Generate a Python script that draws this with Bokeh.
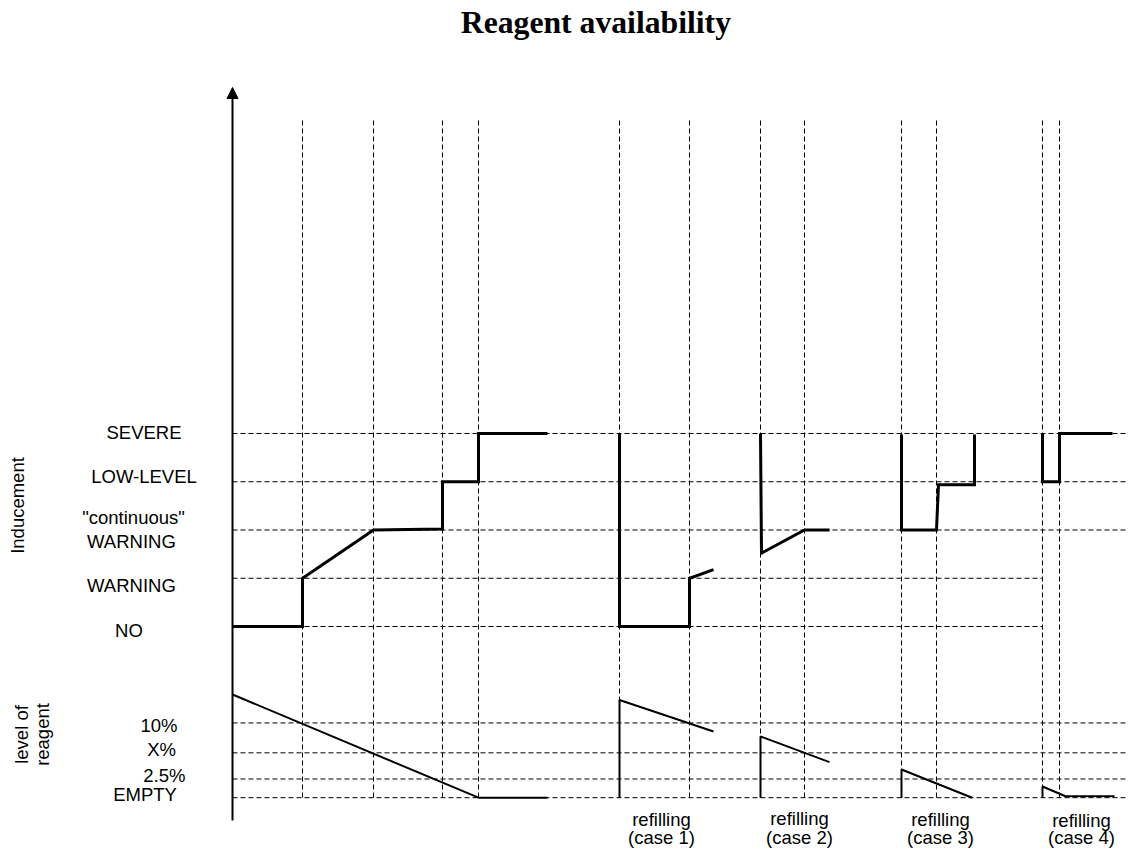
import math
from bokeh.plotting import figure
from bokeh.models import Range1d, Arrow, NormalHead
from bokeh.core.properties import value
from bokeh.embed import file_html
from bokeh.resources import INLINE

# ---------------- data ----------------
title_text = "Reagent availability"

inducement_names = ["NO", "WARNING", "\"continuous\"|WARNING", "LOW-LEVEL", "SEVERE"]
inducement_levels = [0, 1, 2, 3, 4]

reagent_names = ["10%", "X%", "2.5%", "EMPTY"]
reagent_levels = [10.0, 6.0, 2.5, 0.0]          # % of reagent

# times (arbitrary units) of the vertical event markers
event_times = [7.0, 14.1, 21.0, 24.6, 38.7, 45.7, 52.8, 57.2, 66.9, 70.4, 81.0, 82.7]

case_names = ["refilling|(case 1)", "refilling|(case 2)", "refilling|(case 3)", "refilling|(case 4)"]

# normal depletion
base_t = [0.0, 7.0, 7.0, 14.1, 21.0, 21.0, 24.6, 24.6, 31.5]
base_ind = [0, 0, 1, 2, 2.02, 3, 3, 4, 4]
base_lvl_t = [0.0, 24.6, 31.5]
base_lvl = [13.8, 0.0, 0.0]

# refilling case 1
case1_t = [38.7, 38.7, 45.7, 45.7, 48.1]
case1_ind = [4, 0, 0, 1, 1.18]
case1_lvl_t = [38.7, 38.7, 48.1]
case1_lvl = [0.0, 13.07, 8.85]

# refilling case 2
case2_t = [52.8, 52.9, 57.2, 59.7]
case2_ind = [4, 1.52, 2, 2]
case2_lvl_t = [52.8, 52.8, 59.7]
case2_lvl = [0.0, 8.19, 4.75]

# refilling case 3
case3_t = [66.9, 66.9, 70.4, 70.6, 74.2, 74.2]
case3_ind = [3.98, 2, 2, 2.94, 2.94, 3.98]
case3_lvl_t = [66.9, 66.9, 73.97]
case3_lvl = [0.0, 3.77, 0.0]

# refilling case 4
case4_t = [81.0, 81.0, 82.7, 82.7, 88.0]
case4_ind = [4, 3, 3, 4, 4]
case4_lvl_t = [81.0, 81.0, 83.3, 88.2]
case4_lvl = [0.0, 1.5, 0.2, 0.2]

# ---------------- layout (picture pixels) ----------------
FIG_W, FIG_H = 1128, 848
AXIS_X = 232.0
PX_PER_T = 10.0
IND0_Y = 626.0
PX_PER_LEVEL = 48.25
RG0_Y = 797.2
PX_PER_PCT = 7.477
SANS_DY = 7.0      # rendered baseline sits this much below the anchor
SERIF_DY = 9.5


def tx(px):
    return (px - AXIS_X) / PX_PER_T


def ly(py):
    return (IND0_Y - py) / PX_PER_LEVEL


def ry(py):
    return (RG0_Y - py) / PX_PER_PCT


def page_y_of_level(lv):
    return IND0_Y - lv * PX_PER_LEVEL


def page_y_of_pct(pc):
    return RG0_Y - pc * PX_PER_PCT


p = figure(width=FIG_W, height=FIG_H,
           x_range=Range1d(tx(0), tx(FIG_W)),
           y_range=Range1d(ly(FIG_H), ly(0)),
           x_axis_type=None, y_axis_type=None,
           output_backend="svg", toolbar_location=None, min_border=0)
p.extra_y_ranges = {"reagent": Range1d(ry(FIG_H), ry(0))}
p.grid.visible = False
p.outline_line_color = None
p.background_fill_color = "white"
p.border_fill_color = "white"

DASH = "5 3"
right_edge = tx(1144)

# horizontal dashed reference lines
h_xs, h_ys = [], []
for name, lv in zip(inducement_names, inducement_levels):
    end = event_times[10] if lv <= 1 else right_edge
    h_xs.append([0.0, end])
    h_ys.append([lv, lv])
p.multi_line(h_xs, h_ys, line_color="black", line_width=1, line_dash=DASH)

r_xs = [[0.0, right_edge] for _ in reagent_levels]
r_ys = [[v, v] for v in reagent_levels]
p.multi_line(r_xs, r_ys, line_color="black", line_width=1, line_dash=DASH,
             y_range_name="reagent")

# vertical dashed event lines
v_top = ly(120)
v_bot = ly(page_y_of_pct(0.0))
p.multi_line([[t, t] for t in event_times], [[v_top, v_bot] for _ in event_times],
             line_color="black", line_width=1, line_dash=DASH)

# inducement curves
for xs, ys in [(base_t, base_ind), (case1_t, case1_ind), (case2_t, case2_ind),
               (case3_t, case3_ind), (case4_t, case4_ind)]:
    p.line(xs, ys, line_color="black", line_width=3, line_join="miter")

# reagent level curves
for xs, ys in [(base_lvl_t, base_lvl), (case1_lvl_t, case1_lvl), (case2_lvl_t, case2_lvl),
               (case3_lvl_t, case3_lvl), (case4_lvl_t, case4_lvl)]:
    p.line(xs, ys, line_color="black", line_width=2, y_range_name="reagent")

# vertical axis with arrow
p.add_layout(Arrow(end=NormalHead(size=11, fill_color="black", line_color="black", line_width=1),
                   x_start=0.0, y_start=ly(820), x_end=0.0, y_end=ly(87),
                   line_color="black", line_width=2))

FONT = value("Liberation Sans")
FS = "18.5px"

# level labels: (left x, baseline offset px) per line of label
ind_label_pos = {
    "NO": [(114.6, 10.7)],
    "WARNING": [(86.6, 14.0)],
    "\"continuous\"|WARNING": [(81.7, -5.5), (86.6, 18.5)],
    "LOW-LEVEL": [(90.7, 2.0)],
    "SEVERE": [(106.0, 6.0)],
}
rg_label_pos = {"10%": (140.0, 9.3), "X%": (146.7, 3.7), "2.5%": (142.7, 3.2), "EMPTY": (112.7, 3.5)}

lx, lyy, lt = [], [], []
for name, lv in zip(inducement_names, inducement_levels):
    parts = name.split("|")
    for part, (x0, off) in zip(parts, ind_label_pos[name]):
        lx.append(tx(x0))
        lyy.append(ly(page_y_of_level(lv) + off - SANS_DY))
        lt.append(part)
for name, pc in zip(reagent_names, reagent_levels):
    x0, off = rg_label_pos[name]
    lx.append(tx(x0))
    lyy.append(ly(page_y_of_pct(pc) + off - SANS_DY))
    lt.append(name)
p.text(x=lx, y=lyy, text=lt, text_font=FONT, text_font_size=FS,
       text_align="left", text_baseline="alphabetic", text_color="black")

# rotated axis titles
p.text(x=[tx(24.0 - SANS_DY), tx(28.3 - SANS_DY), tx(48.8 - SANS_DY)],
       y=[ly(505), ly(734), ly(734)],
       text=["Inducement", "level of", "reagent"], angle=math.pi / 2,
       text_font=FONT, text_font_size=FS, text_align="center",
       text_baseline="alphabetic", text_color="black")

# refilling case labels (kept inside the 848px-high figure)
case_cx = [661.0, 799.0, 940.0, 1081.0]
case_b1 = [826.0, 825.0, 826.0, 827.0]
case_b2 = [844.0, 843.5, 844.0, 844.0]
cx, cy, ct = [], [], []
for name, x0, b1, b2 in zip(case_names, case_cx, case_b1, case_b2):
    a, b = name.split("|")
    cx += [tx(x0), tx(x0)]
    cy += [ly(b1 - SANS_DY), ly(b2 - SANS_DY)]
    ct += [a, b]
p.text(x=cx, y=cy, text=ct, text_font=FONT, text_font_size=FS,
       text_align="center", text_baseline="alphabetic", text_color="black")

# title
p.text(x=[tx(595.4)], y=[ly(31.7 - SERIF_DY)], text=[title_text],
       text_font=value("Liberation Serif"),
       text_font_size="31.7px", text_font_style="bold", text_align="center",
       text_baseline="alphabetic", text_color="black")

open("out.html", "w").write(file_html(p, INLINE))
